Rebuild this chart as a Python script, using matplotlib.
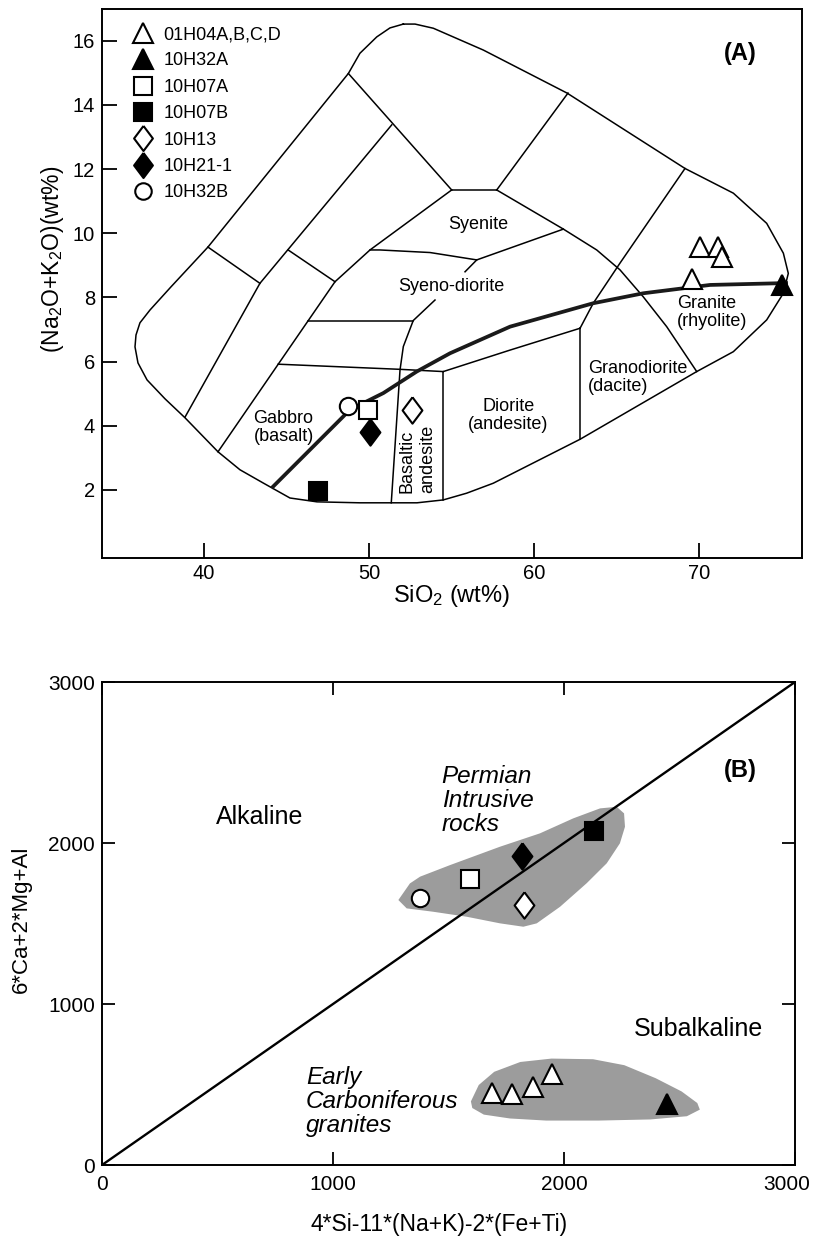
import matplotlib
matplotlib.use('Agg')
import matplotlib.pyplot as plt
from matplotlib.patches import Polygon
from matplotlib.transforms import ScaledTranslation

plt.rcParams['font.family'] = ['Liberation Sans', 'DejaVu Sans']
plt.rcParams['mathtext.fontset'] = 'custom'
plt.rcParams['mathtext.rm'] = 'Liberation Sans'
plt.rcParams['mathtext.it'] = 'Liberation Sans:italic'
plt.rcParams['mathtext.bf'] = 'Liberation Sans:bold'

# ---------------- sample data ----------------
sample_names = ['01H04A,B,C,D', '10H32A', '10H07A', '10H07B', '10H13', '10H21-1', '10H32B']
# Panel A: SiO2 (wt%) and Na2O+K2O (wt%)
sio2 = [[70.04, 71.17, 71.42, 69.59], [75.05], [49.96], [46.88], [52.59], [50.06], [48.70]]
alkali = [[9.57, 9.56, 9.25, 8.59], [8.39], [4.50], [1.97], [4.49], [3.82], [4.61]]
# Panel B: R1 = 4Si-11(Na+K)-2(Fe+Ti), R2 = 6Ca+2Mg+Al
r1 = [[1689, 1777, 1867, 1948], [2446], [1594], [2129], [1829], [1820], [1377]]
r2 = [[448, 442, 485, 565], [376], [1775], [2073], [1615], [1922], [1657]]

# ---------------- TAS (plutonic) field boundaries ----------------
outer_x = [52.08, 52.79, 53.90, 56.93, 62.00, 69.15, 72.08, 74.10, 75.11, 75.41, 75.11, 74.10,
           72.08, 69.86, 62.79, 57.53, 55.92, 54.50, 52.91, 49.45, 46.85, 45.21, 43.58, 42.18,
           40.85, 38.85, 37.64, 36.55, 36.00, 35.82, 35.88, 36.12, 36.73, 38.00, 40.24, 48.75,
           49.45, 50.47, 51.27, 52.08]
outer_y = [16.52, 16.52, 16.39, 15.71, 14.37, 12.02, 11.25, 10.31, 9.38, 8.75, 8.13, 7.30,
           6.31, 5.69, 3.58, 2.21, 1.90, 1.69, 1.60, 1.60, 1.63, 1.75, 2.22, 2.63,
           3.19, 4.25, 4.84, 5.43, 5.96, 6.46, 6.83, 7.21, 7.61, 8.33, 9.57, 14.98,
           15.61, 16.12, 16.40, 16.52]

boundary_lines = [
    ([48.75, 55.01], [14.98, 11.35]),
    ([55.01, 57.74], [11.35, 11.35]),
    ([57.74, 62.06], [11.35, 14.37]),
    ([57.74, 61.78, 63.80, 65.21, 66.62, 68.04, 69.86], [11.35, 10.13, 9.48, 8.86, 8.02, 7.09, 5.69]),
    ([69.15, 65.21, 63.59, 62.79], [12.02, 9.07, 7.82, 7.04]),
    ([54.50, 58.55, 62.79], [5.69, 6.36, 7.04]),
    ([62.79, 62.79], [7.04, 3.58]),
    ([54.50, 54.50], [5.69, 1.69]),
    ([44.50, 51.88, 54.50], [5.92, 5.76, 5.69]),
    ([46.32, 52.68], [7.28, 7.28]),
    ([54.00, 52.68, 52.08, 51.88, 51.68, 51.35], [7.92, 7.28, 6.47, 5.74, 4.18, 1.60]),
    ([56.53, 55.82], [9.17, 8.80]),
    ([50.06, 50.67, 53.70, 56.53, 61.78], [9.48, 9.48, 9.40, 9.17, 10.13]),
    ([40.85, 44.50, 46.32, 47.94, 50.06, 55.01], [3.19, 5.92, 7.28, 8.49, 9.48, 11.35]),
    ([51.38, 43.39, 38.85], [13.38, 8.44, 4.27]),
    ([40.24, 43.39], [9.57, 8.44]),
    ([45.10, 47.94], [9.48, 8.49]),
]
# alkaline / subalkaline divide
divide_x = [44.10, 48.85, 50.87, 52.89, 54.91, 58.55, 63.59, 66.62, 70.67, 75.39]
divide_y = [2.06, 4.50, 5.02, 5.69, 6.26, 7.09, 7.82, 8.13, 8.39, 8.45]

# ---------------- Panel B fields ----------------
diag_x = [0, 3000]
diag_y = [0, 3000]
permian_x = [1283, 1333, 1377, 1507, 1723, 1896, 2040, 2156, 2228, 2260, 2264, 2242, 2185, 2098,
             1983, 1882, 1824, 1723, 1579, 1434, 1319]
permian_y = [1646, 1749, 1791, 1863, 1977, 2060, 2153, 2215, 2225, 2184, 2101, 1998, 1874, 1750,
             1604, 1501, 1480, 1501, 1542, 1573, 1594]
carbon_x = [1597, 1631, 1698, 1811, 1946, 2126, 2261, 2397, 2509, 2577, 2588, 2532, 2374, 2149,
            1923, 1766, 1653, 1603]
carbon_y = [395, 497, 579, 640, 661, 657, 620, 539, 457, 385, 344, 303, 283, 276,
            276, 289, 313, 354]

# ---------------- marker styles ----------------
thin_diamond = [(0, 1), (0.75, 0), (0, -1), (-0.75, 0), (0, 1)]
markers = ['^', '^', 's', 's', thin_diamond, thin_diamond, 'o']
faces = ['white', 'black', 'white', 'black', 'white', 'black', 'white']
msizes = [15, 15, 13.5, 13.5, 19, 19, 12.5]

fig = plt.figure(figsize=(8.15, 12.44), dpi=100)
axA = fig.add_axes([0.12515, 0.55145, 0.85890, 0.44132])
axB = fig.add_axes([0.12515, 0.06350, 0.85031, 0.38826])

# ---------------- Panel A ----------------
axA.plot(outer_x, outer_y, color='black', lw=1.1, zorder=2)
for bx, by in boundary_lines:
    axA.plot(bx, by, color='black', lw=1.1, zorder=2)
axA.plot(divide_x, divide_y, color='#1a1a1a', lw=2.7, zorder=2.5, solid_capstyle='butt')

handles = []
for name, xs, ys, mk, fc, ms in zip(sample_names, sio2, alkali, markers, faces, msizes):
    h, = axA.plot(xs, ys, linestyle='none', marker=mk, markersize=ms, markerfacecolor=fc,
                  markeredgecolor='black', markeredgewidth=1.5, zorder=4, label=name)
    handles.append(h)

lab_fs = 13
axA.text(56.6, 10.26, 'Syenite', fontsize=lab_fs, ha='center', va='center')
axA.text(54.97, 8.33, 'Syeno-diorite', fontsize=lab_fs, ha='center', va='center')
axA.text(44.82, 3.95, 'Gabbro\n(basalt)', fontsize=lab_fs, ha='center', va='center', linespacing=1.05)
axA.text(52.28, 1.91, 'Basaltic', fontsize=lab_fs, rotation=90, rotation_mode='anchor',
         ha='left', va='center')
axA.text(53.59, 1.91, 'andesite', fontsize=lab_fs, rotation=90, rotation_mode='anchor',
         ha='left', va='center')
axA.text(58.44, 4.32, 'Diorite\n(andesite)', fontsize=lab_fs, ha='center', va='center', linespacing=1.05)
axA.text(63.27, 5.51, 'Granodiorite\n(dacite)', fontsize=lab_fs, ha='left', va='center',
         multialignment='left', linespacing=1.05)
axA.text(68.65, 7.53, 'Granite\n(rhyolite)', fontsize=lab_fs, ha='left', va='center',
         multialignment='left', linespacing=1.05)
axA.text(72.48, 15.61, '(A)', fontsize=17, fontweight='bold', ha='center', va='center')

axA.set_xlim(33.82, 76.24)
axA.set_ylim(-0.12, 16.99)
axA.set_xticks([40, 50, 60, 70])
axA.set_yticks([2, 4, 6, 8, 10, 12, 14, 16])
axA.tick_params(direction='in', length=10.5, width=1.3, labelsize=14.5, top=False, right=False)
axA.tick_params(axis='x', pad=4)
axA.tick_params(axis='y', pad=5)
for sp in axA.spines.values():
    sp.set_linewidth(1.4)
axA.set_xlabel('SiO$_2$ (wt%)', fontsize=17)
axA.xaxis.set_label_coords(0.499, -0.045)
axA.set_ylabel('(Na$_2$O+K$_2$O)(wt%)', fontsize=16.5, va='center')
axA.yaxis.set_label_coords(-0.0714, 0.543)

leg = axA.legend(handles=handles, loc='upper left', bbox_to_anchor=(0.036, 0.982),
                 frameon=False, fontsize=13, handlelength=1.0, handletextpad=0.6,
                 labelspacing=0.52, borderpad=0.4, borderaxespad=0, markerscale=0.95)

# ---------------- Panel B ----------------
axB.add_patch(Polygon(list(zip(permian_x, permian_y)), closed=True, facecolor='#9c9c9c',
                      edgecolor='none', zorder=1))
axB.add_patch(Polygon(list(zip(carbon_x, carbon_y)), closed=True, facecolor='#9c9c9c',
                      edgecolor='none', zorder=1))
axB.plot(diag_x, diag_y, color='black', lw=1.7, zorder=2)
for name, xs, ys, mk, fc, ms in zip(sample_names, r1, r2, markers, faces, msizes):
    axB.plot(xs, ys, linestyle='none', marker=mk, markersize=ms, markerfacecolor=fc,
             markeredgecolor='black', markeredgewidth=1.5, zorder=4)

axB.text(684, 2163, 'Alkaline', fontsize=18, ha='center', va='center')
axB.text(2584, 845, 'Subalkaline', fontsize=18, ha='center', va='center')
axB.text(2762, 2453, '(B)', fontsize=17, fontweight='bold', ha='center', va='center')
axB.text(1470, 2262, 'Permian\nIntrusive\nrocks', fontsize=17.5, style='italic',
         ha='left', va='center', linespacing=1.05)
axB.text(883, 395, 'Early\nCarboniferous\ngranites', fontsize=17.5, style='italic',
         ha='left', va='center', linespacing=1.05)

axB.set_xlim(0, 3000)
axB.set_ylim(0, 3000)
axB.set_xticks([0, 1000, 2000, 3000])
axB.set_yticks([0, 1000, 2000, 3000])
axB.tick_params(direction='in', length=9.5, width=1.3, labelsize=15, top=True, right=True)
axB.tick_params(axis='x', pad=7)
axB.tick_params(axis='y', pad=5)
for sp in axB.spines.values():
    sp.set_linewidth(1.4)
axB.set_xlabel('4*Si-11*(Na+K)-2*(Fe+Ti)', fontsize=16.5)
axB.xaxis.set_label_coords(0.487, -0.099)
axB.set_ylabel('6*Ca+2*Mg+Al', fontsize=16, va='center')
axB.yaxis.set_label_coords(-0.116, 0.509)

# keep the right-most x tick label inside the figure
last = axB.get_xticklabels()[-1]
last.set_transform(last.get_transform() + ScaledTranslation(-6 / 72, 0, fig.dpi_scale_trans))

fig.savefig('out.png', dpi=100)
